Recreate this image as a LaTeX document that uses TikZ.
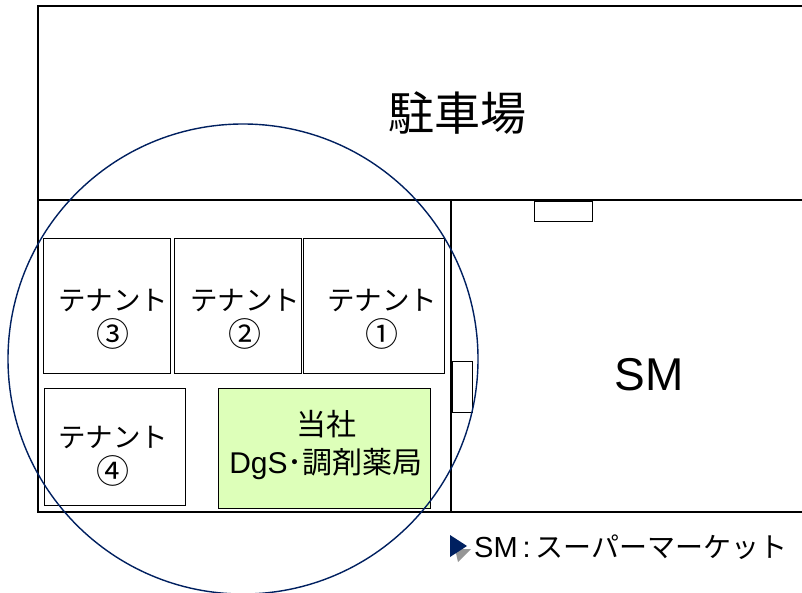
\documentclass[tikz,border=0pt]{standalone}
\usepackage{fontspec}
\setmainfont{Liberation Sans}
\newfontfamily\jp{Noto Sans CJK JP}
\newfontfamily\ar{Liberation Sans}
\definecolor{navy}{RGB}{0,32,96}
\definecolor{paleGreen}{RGB}{221,255,185}
\definecolor{shadowGray}{RGB}{150,150,150}
\newcommand{\bignum}[1]{{\fontsize{33}{36}\selectfont #1}}
\begin{document}
\begin{tikzpicture}[x=1pt,y=-1pt,
  frame/.style={draw=black,line width=1.7pt},
  box/.style={draw=black,line width=1.4pt,fill=white,rectangle,inner sep=0pt,anchor=north west},
  lbl/.style={align=center,inner sep=0pt,font=\jp\fontsize{27.5}{36}\selectfont}]
\useasboundingbox (0,0) rectangle (802,593);
\fill[white] (0,0) rectangle (802,593);
% frame
\coordinate (tr) at (802,6);
\coordinate (tl) at (38,6);
\coordinate (bl) at (38,512);
\coordinate (br) at (802,512);
\coordinate (ml) at (38,200);
\coordinate (mr) at (802,200);
\coordinate (vt) at (451,200);
\coordinate (vb) at (451,512);
\draw[frame] (tr) -- (tl) -- (bl) -- (br);
\draw[frame] (ml) -- (mr);
\draw[frame] (vt) -- (vb);
% boxes
\node[box,minimum width=127pt,minimum height=135pt] (t3) at (43,238) {};
\node[box,minimum width=127pt,minimum height=135pt] (t2) at (174,238) {};
\node[box,minimum width=141pt,minimum height=135pt] (t1) at (303,238) {};
\node[box,minimum width=141pt,minimum height=117pt] (t4) at (44,388) {};
\node[box,fill=paleGreen,minimum width=212pt,minimum height=120pt] (us) at (218,388) {};
\node[box,minimum width=20pt,minimum height=51pt] (door1) at (452,361) {};
\node[box,minimum width=58pt,minimum height=20pt] (door2) at (534,201) {};
% labels
\node[inner sep=0pt,font=\jp\fontsize{46}{46}\selectfont] (park) at (457,113) {駐車場};
\node[inner sep=0pt,font=\ar\fontsize{46}{46}\selectfont] (sm) at (649,375) {SM};
\node[lbl] (l3) at (113,319) {テナント\\\bignum{③}};
\node[lbl] (l2) at (245,319) {テナント\\\bignum{②}};
\node[lbl] (l1) at (382,319) {テナント\\\bignum{①}};
\node[lbl] (l4) at (113,456) {テナント\\\bignum{④}};
\node[lbl,font=\jp\fontsize{30}{38}\selectfont] (lus) at (326,445) {当社\\{\ar DgS}･調剤薬局};
% circle
\draw[navy,line width=1.4pt] (243,359) circle (235pt);
% legend
\fill[shadowGray] (455,549) -- (471,549) -- (458,562) -- cycle;
\fill[navy] (450,535) -- (467,546) -- (450,557) -- cycle;
\node[anchor=west,inner sep=0pt,font=\ar\fontsize{29}{29}\selectfont] (leg) at (474,547) {SM\,:\,{\jp\fontsize{28}{28}\selectfont スーパーマーケット}};
\end{tikzpicture}
\end{document}
